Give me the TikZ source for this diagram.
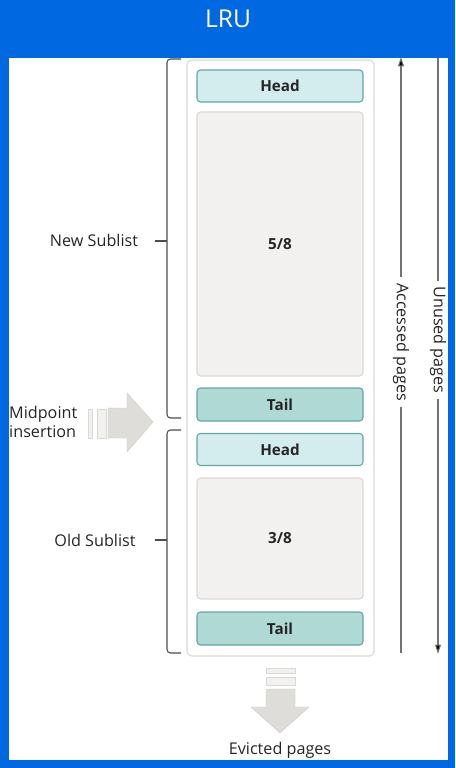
\documentclass[tikz,border=0pt]{standalone}
\usepackage{fontspec}
\setmainfont{Open Sans}
\usetikzlibrary{arrows.meta}

\definecolor{lrublue}{HTML}{0068E0}
\definecolor{headfill}{HTML}{D3ECEE}
\definecolor{tailfill}{HTML}{AED9D5}
\definecolor{tealline}{HTML}{62A6A1}
\definecolor{blockfill}{HTML}{F2F1EF}
\definecolor{blockline}{HTML}{DCD9D4}
\definecolor{arrowfill}{HTML}{DFDDD9}
\definecolor{bracketline}{HTML}{4D4D4D}

\tikzset{
  listbox/.style = {draw = tealline, line width = 0.9pt, rounded corners = 3pt,
    minimum width = 4.98cm, font = \fontsize{13}{15}\selectfont\bfseries, text = black!85},
  headbox/.style = {listbox, fill = headfill, minimum height = 0.96cm},
  tailbox/.style = {listbox, fill = tailfill, minimum height = 0.99cm},
  pagebox/.style = {listbox, draw = blockline, fill = blockfill},
  bracket/.style = {draw = bracketline, line width = 0.9pt, rounded corners = 3pt},
  sidelabel/.style = {font = \fontsize{13.8}{15}\selectfont, text = black!85},
  pageline/.style = {draw = black!55, line width = 0.9pt},
  bigarrow/.style = {fill = arrowfill, draw = arrowfill!90!black, line width = 0.3pt},
  bar/.style = {fill = blockfill, draw = blockline, line width = 0.7pt}
}

\begin{document}
\begin{tikzpicture}[x = 0.03cm, y = -0.03cm]
    \useasboundingbox (0, 0) rectangle (455, 768);
    \fill [lrublue] (0, 0) rectangle (455, 768);
    \node [text = white, font = \fontsize{21}{24}\selectfont] (title) at (228, 19) {LRU};
    \fill [white] (9, 58) rectangle (448, 760);

    % buffer pool list
    \node [draw = blockline, line width = 0.9pt, rounded corners = 4pt, fill = white,
      minimum width = 5.61cm, minimum height = 17.88cm] (pool) at (280.5, 358) {};

    \node [headbox] (newhead) at (280, 86) {Head};
    \node [pagebox, minimum height = 7.92cm] (newpages) at (280, 244) {5/8};
    \node [tailbox] (newtail) at (280, 404.5) {Tail};
    \node [headbox] (oldhead) at (280, 449.5) {Head};
    \node [pagebox, minimum height = 3.63cm] (oldpages) at (280, 538.5) {3/8};
    \node [tailbox] (oldtail) at (280, 628.5) {Tail};

    % sublist brackets
    \coordinate (N1) at (181, 59);
    \coordinate (N2) at (167, 418);
    \coordinate (N3) at (181, 418);
    \coordinate (O1) at (181, 430);
    \coordinate (O2) at (167, 653);
    \coordinate (O3) at (181, 653);

    \draw [bracket] (N1) -| (N2) -- (N3);
    \draw [bracket] (O1) -| (O2) -- (O3);

    \node [sidelabel] (newlabel) at (94, 240) {New Sublist};
    \node [sidelabel] (oldlabel) at (95, 540) {Old Sublist};
    \draw [draw = bracketline, line width = 0.9pt] (155, 241) -- (167, 241);
    \draw [draw = bracketline, line width = 0.9pt] (155, 540) -- (167, 540);

    % midpoint insertion
    \node [sidelabel, font = \fontsize{13.8}{16}\selectfont, align = left, anchor = west,
      inner sep = 0pt] (midlabel) at (9, 422) {Midpoint\\insertion};
    \draw [bar] (88, 409) rectangle (92, 438);
    \draw [bar] (97, 409) rectangle (106, 438);
    \draw [bigarrow] (108, 408) -- (127, 408) -- (127, 393) -- (153, 422)
      -- (127, 452) -- (127, 438) -- (108, 438) -- cycle;

    % evicted pages
    \draw [bar] (266, 668) rectangle (295, 673);
    \draw [bar] (266, 677) rectangle (295, 685);
    \draw [bigarrow] (266, 689) -- (295, 689) -- (295, 707) -- (309, 707)
      -- (280, 733) -- (251, 707) -- (266, 707) -- cycle;
    \node [sidelabel] (evicted) at (280, 750) {Evicted pages};

    % page direction
    \coordinate (A1) at (401, 57);
    \coordinate (A2) at (401, 653);
    \coordinate (U1) at (438, 58);
    \coordinate (U2) at (438, 654);

    \node [sidelabel, rotate = -90, inner sep = 1pt, outer sep = 4pt] (accessed) at (401, 342) {Accessed pages};
    \node [sidelabel, rotate = -90, inner sep = 1pt, outer sep = 4pt] (unused) at (438, 340) {Unused pages};

    \draw [pageline, -{Triangle[length = 8pt, width = 5pt, fill = black]}] (accessed.west) -- (A1);
    \draw [pageline] (accessed.east) -- (A2);
    \draw [pageline] (unused.west) -- (U1);
    \draw [pageline, -{Triangle[length = 8pt, width = 5pt, fill = black]}] (unused.east) -- (U2);
  \end{tikzpicture}
\end{document}
